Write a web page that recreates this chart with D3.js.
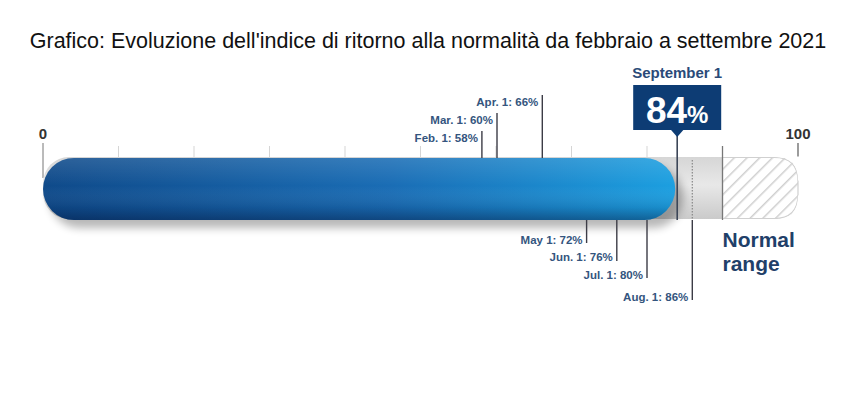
<!DOCTYPE html>
<html><head><meta charset="utf-8">
<script src="https://cdn.jsdelivr.net/npm/d3@7"></script>
<style>body{margin:0;background:#fff;}svg{display:block;}</style>
</head><body>
<svg id="c" width="846" height="397"></svg>
<script>
const title = "Grafico: Evoluzione dell'indice di ritorno alla normalità da febbraio a settembre 2021";
const months = ["Feb. 1", "Mar. 1", "Apr. 1", "May 1", "Jun. 1", "Jul. 1", "Aug. 1"];
const values = [58, 60, 66, 72, 76, 80, 86];
const current = {label: "September 1", value: 84};
const normalRange = [90, 100];
const axisTicks = [0, 100];
const minorTicks = [10, 20, 30, 40, 50, 60, 70, 80];

const svg = d3.select("#c");
const x = d3.scaleLinear().domain([0, 100]).range([43, 798]);
const barTop = 158, barBot = 220, barH = barBot - barTop;
const labelColor = "#34557e";
const F = "Liberation Sans, Arial, sans-serif";

const defs = svg.append("defs");
const gBlue = defs.append("linearGradient").attr("id", "gBlue").attr("x1", 0).attr("x2", 1).attr("y1", 0).attr("y2", 0);
gBlue.append("stop").attr("offset", "0%").attr("stop-color", "#0f4a8a");
gBlue.append("stop").attr("offset", "55%").attr("stop-color", "#1a6db5");
gBlue.append("stop").attr("offset", "100%").attr("stop-color", "#1c9fe0");
const gShade = defs.append("linearGradient").attr("id", "gShade").attr("x1", 0).attr("x2", 0).attr("y1", 0).attr("y2", 1);
gShade.append("stop").attr("offset", "0%").attr("stop-color", "#ffffff").attr("stop-opacity", 0.12);
gShade.append("stop").attr("offset", "45%").attr("stop-color", "#ffffff").attr("stop-opacity", 0);
gShade.append("stop").attr("offset", "80%").attr("stop-color", "#000d30").attr("stop-opacity", 0.12);
gShade.append("stop").attr("offset", "100%").attr("stop-color", "#000d30").attr("stop-opacity", 0.4);
const gGray = defs.append("linearGradient").attr("id", "gGray").attr("x1", 0).attr("x2", 0).attr("y1", 0).attr("y2", 1);
gGray.append("stop").attr("offset", "0%").attr("stop-color", "#d6d6d6");
gGray.append("stop").attr("offset", "45%").attr("stop-color", "#e8e8e8");
gGray.append("stop").attr("offset", "100%").attr("stop-color", "#cacaca");
const pat = defs.append("pattern").attr("id", "hatch").attr("patternUnits", "userSpaceOnUse")
  .attr("width", 9).attr("height", 9).attr("patternTransform", "rotate(45)");
pat.append("rect").attr("width", 9).attr("height", 9).attr("fill", "#ffffff");
pat.append("line").attr("x1", 0).attr("y1", 0).attr("x2", 0).attr("y2", 9).attr("stroke", "#cfcfcf").attr("stroke-width", 3);
const blur = defs.append("filter").attr("id", "sh").attr("x", "-10%").attr("y", "-50%").attr("width", "120%").attr("height", "200%");
blur.append("feGaussianBlur").attr("stdDeviation", 4);

// title
svg.append("text").attr("x", 428).attr("y", 48).attr("text-anchor", "middle")
  .attr("font-family", F).attr("font-size", 21.5).attr("fill", "#111")
  .text(title);

// axis labels and tick lines
const axisG = svg.append("g");
axisG.selectAll("text").data(axisTicks).join("text")
  .attr("x", d => x(d)).attr("y", 139).attr("text-anchor", "middle")
  .attr("font-family", F).attr("font-weight", 700).attr("font-size", 15).attr("fill", "#333")
  .text(d => d);
axisG.append("line").attr("x1", x(0)).attr("x2", x(0)).attr("y1", 143).attr("y2", 178).attr("stroke", "#777").attr("stroke-width", 1);
axisG.append("line").attr("x1", x(100)).attr("x2", x(100)).attr("y1", 143).attr("y2", 178).attr("stroke", "#666").attr("stroke-width", 1.3);
axisG.selectAll(".minor").data(minorTicks).join("line").attr("class", "minor")
  .attr("x1", d => x(d)).attr("x2", d => x(d)).attr("y1", 146).attr("y2", 158)
  .attr("stroke", "#d5d5d5").attr("stroke-width", 1);

// gray track
svg.append("rect").attr("x", x(0)).attr("y", barTop - 1).attr("width", x(100) - x(0)).attr("height", barH)
  .attr("rx", 26).attr("fill", "url(#gGray)");
// hatched normal range
svg.append("rect").attr("x", x(normalRange[0])).attr("y", barTop).attr("width", x(normalRange[1]) - x(normalRange[0])).attr("height", barH - 2)
  .attr("fill", "url(#hatch)");
svg.append("path").attr("d", () => {
  const x0 = x(normalRange[0]), x1 = x(normalRange[1]), r = 24, t = barTop - 0.5, b = barBot - 1.5;
  return `M${x0},${t} L${x1 - r},${t} Q${x1},${t} ${x1},${t + r} L${x1},${b - r} Q${x1},${b} ${x1 - r},${b} L${x0},${b} Z`;
}).attr("fill", "none").attr("stroke", "#d0d0d0").attr("stroke-width", 1.2);
svg.append("path").attr("d", () => {
  const x1 = x(normalRange[1]), r = 24, t = barTop - 1.5, b = barBot - 0.5;
  return `M${x1 - r},${t} Q${x1},${t} ${x1},${t + r} L${x1 + 3},${t + r} L${x1 + 3},${t} Z M${x1 - r},${b} Q${x1},${b} ${x1},${b - r} L${x1 + 3},${b - r} L${x1 + 3},${b} Z`;
}).attr("fill", "#fff");
svg.append("line").attr("x1", x(normalRange[0])).attr("x2", x(normalRange[0])).attr("y1", 146).attr("y2", barBot)
  .attr("stroke", "#777").attr("stroke-width", 1.3);

// shadow
svg.append("rect").attr("x", x(0) + 6).attr("y", barTop + 8).attr("width", x(current.value) - x(0)).attr("height", barH)
  .attr("rx", barH / 2).attr("fill", "#000").attr("opacity", 0.28).attr("filter", "url(#sh)");
// blue bar
const bw = x(current.value) - 2 - x(0);
svg.append("rect").attr("x", x(0)).attr("y", barTop).attr("width", bw).attr("height", barH)
  .attr("rx", barH / 2).attr("fill", "url(#gBlue)");
svg.append("rect").attr("x", x(0)).attr("y", barTop).attr("width", bw).attr("height", barH)
  .attr("rx", barH / 2).attr("fill", "url(#gShade)");

// monthly markers
const all = months.map((m, i) => ({m, v: values[i], i}));
const above = all.filter(d => d.i < 3);
const below = all.filter(d => d.i >= 3);
const aboveTops = [131, 113, 95];
const belowBots = [243, 261, 278, 300];
const aboveLabelY = [142, 124, 106];
const belowLabelY = [244, 261, 279, 301];

svg.selectAll(".al").data(above).join("line").attr("class", "al")
  .attr("x1", d => x(d.v) + 1).attr("x2", d => x(d.v) + 1).attr("y1", (d, i) => aboveTops[i]).attr("y2", barTop)
  .attr("stroke", "#3c3c46").attr("stroke-width", 1.4);
svg.selectAll(".at").data(above).join("text").attr("class", "at")
  .attr("x", d => x(d.v) - 3).attr("y", (d, i) => aboveLabelY[i]).attr("text-anchor", "end")
  .attr("font-family", F).attr("font-weight", 700).attr("font-size", 11.5).attr("fill", labelColor)
  .text(d => `${d.m}: ${d.v}%`);

svg.selectAll(".bl").data(below).join("line").attr("class", "bl")
  .attr("x1", d => x(d.v)).attr("x2", d => x(d.v)).attr("y1", barBot).attr("y2", (d, i) => belowBots[i])
  .attr("stroke", "#3c3c46").attr("stroke-width", 1.4);
svg.selectAll(".dl").data(below.filter(d => d.v > current.value)).join("line").attr("class", "dl")
  .attr("x1", d => x(d.v)).attr("x2", d => x(d.v)).attr("y1", barTop + 2).attr("y2", barBot)
  .attr("stroke", "#888").attr("stroke-width", 1.2).attr("stroke-dasharray", "1.5,1.5");
svg.selectAll(".bt").data(below).join("text").attr("class", "bt")
  .attr("x", d => x(d.v) - 4).attr("y", (d, i) => belowLabelY[i]).attr("text-anchor", "end")
  .attr("font-family", F).attr("font-weight", 700).attr("font-size", 11.5).attr("fill", labelColor)
  .text(d => `${d.m}: ${d.v}%`);

// current marker
const cx = x(current.value);
svg.append("line").attr("x1", cx).attr("x2", cx).attr("y1", 130).attr("y2", barBot)
  .attr("stroke", "#3c4658").attr("stroke-width", 1.6);
svg.append("text").attr("x", cx).attr("y", 78).attr("text-anchor", "middle")
  .attr("font-family", F).attr("font-weight", 700).attr("font-size", 15).attr("fill", "#2a4a78")
  .text(current.label);
svg.append("rect").attr("x", cx - 44).attr("y", 85).attr("width", 88).attr("height", 45).attr("fill", "#0d3c74");
svg.append("path").attr("d", `M${cx - 7},129 L${cx},137 L${cx + 7},129 Z`).attr("fill", "#0d3c74");
const t84 = svg.append("text").attr("x", cx).attr("y", 123).attr("text-anchor", "middle")
  .attr("font-family", F).attr("font-weight", 700).attr("fill", "#fff");
t84.append("tspan").attr("font-size", 37).text(current.value);
t84.append("tspan").attr("font-size", 24).text("%");

// normal range label
const nrG = svg.append("g").attr("font-family", F).attr("font-weight", 700)
  .attr("font-size", 21).attr("fill", "#1f4069");
nrG.append("text").attr("x", x(normalRange[0])).attr("y", 247).text("Normal");
nrG.append("text").attr("x", x(normalRange[0])).attr("y", 271).text("range");
</script>
</body></html>
